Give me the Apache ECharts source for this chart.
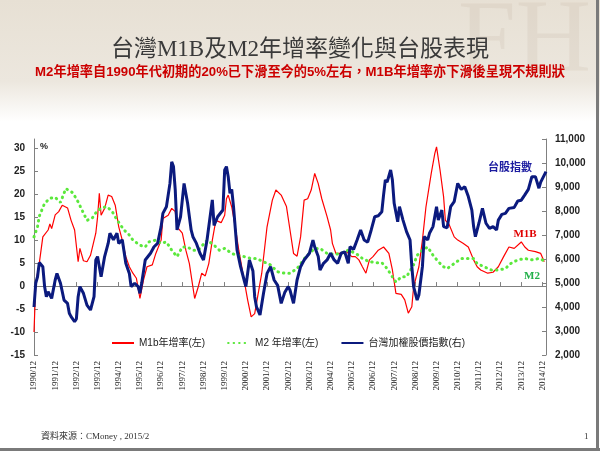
<!DOCTYPE html>
<html><head><meta charset="utf-8">
<script src="https://cdn.jsdelivr.net/npm/echarts@6/dist/echarts.min.js"></script>
<style>html,body{margin:0;padding:0;background:#fff}#c{width:600px;height:451px}</style>
</head><body><div id="c"></div>
<script>
// x values are months since 1990/12
const yearLabels = ['1990/12','1991/12','1992/12','1993/12','1994/12','1995/12','1996/12','1997/12','1998/12','1999/12','2000/12','2001/12','2002/12','2003/12','2004/12','2005/12','2006/12','2007/12','2008/12','2009/12','2010/12','2011/12','2012/12','2013/12','2014/12'];

const m1b = [[0,-10],[1,0.6],[3,5],[5,10.7],[8,12.2],[9,13.5],[10,12.5],[12,15.5],[14,16.2],[16,17.6],[19,17],[21,14.3],[23,12.2],[25,5.3],[26,8.2],[28,5.5],[30,5.3],[32,6.7],[35,11.5],[36,15],[37,20.2],[38,15.4],[40,16.9],[42,19.8],[44,19.5],[46,17.6],[48,12.9],[50,10],[52,6.4],[54,4.2],[56,2.8],[58,1.7],[60,-2.7],[62,1.3],[64,4.2],[67,4.6],[69,7.1],[72,10],[73,14.7],[76,15.4],[78,16.9],[80,16.2],[81,12.9],[84,11.5],[86,7.8],[88,4.9],[90,-0.2],[91,-2.7],[93,-0.2],[95,2.8],[97,2.2],[99,4.9],[101,10],[103,14.3],[106,13.8],[108,15.4],[109,19],[110,19.8],[112,17.2],[114,12.9],[116,7.8],[119,1.3],[121,-3],[123,-6.7],[125,-6],[127,-1.6],[129,2.8],[132,12.9],[135,18.7],[137,20.9],[140,19.8],[143,17.3],[145,12.2],[147,7.1],[149,6.5],[151,10.7],[153,18.7],[155,19],[157,20.9],[159,24.5],[161,22.3],[163,19],[166,15.1],[168,12.2],[169,9.3],[171,7.1],[174,7.1],[177,7.5],[180,6.4],[182,6.4],[184,5.7],[186,4.2],[188,2.8],[190,5.7],[192,6.4],[195,7.8],[198,8.5],[199,8.5],[201,7.1],[203,3.5],[205,-1.6],[208,-1.8],[210,-3],[212,-5.9],[214,-4.5],[215,-0.2],[218,4.2],[220,10],[222,17.2],[225,24.5],[227,28.8],[228,30.3],[230,25.2],[232,19.4],[233,14.3],[235,13.5],[238,10.7],[240,10],[243,9.3],[246,8.5],[249,5.7],[251,4.2],[253,3.5],[257,2.8],[260,3],[263,4.2],[266,6.4],[269,8.5],[272,8.2],[276,9.6],[278,8.5],[280,7.8],[284,7.5],[287,7.1],[289,5.3]];

const m2 = [[0,10.7],[2,12.9],[3,15.2],[6,18],[9,19.1],[12,19.3],[15,18.2],[18,21.2],[19,21.4],[22,20.3],[25,18.3],[27,16.7],[30,14.3],[33,14.8],[36,16.5],[38,16.9],[41,17.3],[44,16.4],[47,14.4],[51,12.2],[54,11.1],[56,10],[60,8.9],[63,8.5],[65,9.6],[69,10],[72,9.3],[75,9.6],[78,7.8],[81,6.4],[84,8.5],[87,8.5],[90,7.8],[93,7.8],[98,10],[102,8.9],[105,7.8],[108,8.2],[112,7.1],[115,6.7],[119,6.4],[123,6],[126,6],[130,5.3],[134,4.6],[138,3.1],[142,2.8],[145,2.8],[149,3.8],[154,6.4],[159,8.2],[162,8.2],[166,7.1],[170,6.9],[174,7.1],[178,7.8],[180,7.5],[183,6.9],[186,6],[190,5.3],[194,5.1],[197,5.1],[200,3.8],[203,2],[205,0.9],[208,2],[211,2],[215,4.6],[217,6.7],[220,7.8],[223,8.5],[226,6.7],[229,5.3],[232,4.2],[234,3.8],[238,4.9],[242,6],[246,6],[249,6],[251,4.9],[255,4.2],[259,3.5],[263,3.5],[267,3.8],[270,4.9],[274,5.7],[278,6],[282,5.7],[286,6],[289,5.5]];

const taiex = [[0,4000],[1,5000],[2,5260],[3,5850],[5,5680],[6,4850],[7,4430],[8,4640],[10,4360],[12,5125],[13,5400],[15,4990],[17,4290],[19,4150],[20,3740],[21,3600],[23,3390],[24,3500],[25,4430],[26,4850],[28,4570],[30,4080],[32,3875],[34,4430],[35,5960],[36,6100],[38,5260],[40,6100],[42,6650],[43,7070],[45,6800],[47,7070],[48,6650],[50,6800],[52,5820],[54,5400],[55,4850],[57,4990],[59,4850],[60,4570],[61,4990],[63,5960],[66,6240],[68,6510],[70,6650],[72,7350],[73,7900],[75,8180],[77,9150],[78,10050],[79,9850],[80,8880],[81,7210],[83,7760],[85,9150],[87,8320],[89,7210],[90,6930],[92,6650],[94,6240],[96,5960],[98,6790],[101,8460],[102,7400],[104,7760],[107,8040],[108,9710],[109,9850],[110,9430],[111,8740],[112,8900],[113,8180],[115,6380],[117,5680],[119,5125],[120,4850],[122,5960],[124,5500],[125,4430],[126,4010],[128,3670],[130,4570],[132,5400],[134,5680],[136,5125],[138,4900],[140,4150],[142,4600],[144,4850],[145,4700],[147,4150],[149,5125],[151,5680],[153,5960],[156,6240],[158,6790],[159,6500],[161,6100],[162,5540],[164,5820],[166,5960],[168,6240],[170,5960],[172,5820],[174,6240],[176,6300],[178,5820],[179,6510],[181,6400],[183,6790],[185,7210],[187,6790],[189,6700],[191,7210],[193,7760],[195,7800],[197,7970],[198,8670],[199,9290],[200,9200],[202,9710],[203,9290],[204,8320],[206,7550],[207,8180],[209,7620],[211,7140],[213,6790],[214,5680],[215,4850],[216,4570],[217,4290],[218,4500],[220,5680],[221,6930],[223,6800],[224,7070],[226,7350],[228,8180],[229,7620],[231,8040],[232,7350],[234,7300],[236,8180],[238,8390],[240,9150],[242,8900],[244,9010],[246,8600],[248,8040],[249,7350],[250,6930],[252,7490],[254,8110],[256,7490],[258,7280],[260,7350],[262,7210],[263,7620],[265,7860],[267,7900],[269,8110],[272,8150],[274,8420],[276,8450],[278,8670],[280,8900],[282,9430],[284,9430],[286,8950],[287,9200],[290,9640]];

const seriesNames = ['M1b年增率(左)', 'M2 年增率(左)', '台灣加權股價指數(右)'];

const chart = echarts.init(document.getElementById('c'), null, {renderer: 'canvas'});
const cjkSans = "'Liberation Sans','Noto Sans CJK TC'";
const axisLine = {show: true, lineStyle: {color: '#808080', width: 1}};
const axisTick = {show: true, inside: true, length: 4, lineStyle: {color: '#808080'}};
const numLabel = {fontSize: 10, fontWeight: 'bold', fontFamily: 'Liberation Sans', color: '#222', margin: 9};

chart.setOption({
  animation: false,
  backgroundColor: new echarts.graphic.LinearGradient(0, 0, 0, 1, [
    {offset: 0, color: '#e7e0d4'},
    {offset: 0.18, color: '#ece7de'},
    {offset: 0.27, color: '#ffffff'},
    {offset: 1, color: '#ffffff'}
  ]),
  grid: {left: 34, right: 54, top: 139, bottom: 96},
  legend: {
    left: 106, top: 333, itemWidth: 22, itemHeight: 10, itemGap: 22,
    data: seriesNames,
    itemStyle: {opacity: 0},
    textStyle: {fontSize: 10, fontFamily: cjkSans, color: '#222'}
  },
  xAxis: {
    type: 'value', min: 0, max: 290, interval: 12,
    axisLine: axisLine, axisTick: axisTick, splitLine: {show: false},
    axisLabel: {
      rotate: 90, margin: 6, fontSize: 9, fontFamily: 'Liberation Serif', color: '#222',
      showMaxLabel: false,
      formatter: v => (v % 12 === 0 && yearLabels[v / 12]) ? yearLabels[v / 12] : ''
    }
  },
  yAxis: [
    {type: 'value', min: -15, max: 32, interval: 5, position: 'left',
     axisLine: axisLine, axisTick: axisTick, splitLine: {show: false},
     axisLabel: Object.assign({showMaxLabel: false}, numLabel)},
    {type: 'value', min: 2000, max: 11000, interval: 1000, position: 'right',
     axisLine: axisLine, axisTick: axisTick, splitLine: {show: false},
     axisLabel: numLabel}
  ],
  series: [
    {name: seriesNames[0], type: 'line', yAxisIndex: 0, data: m1b, symbol: 'none',
     lineStyle: {color: '#ff0000', width: 1.2}, itemStyle: {color: '#ff0000'}, z: 2},
    {name: seriesNames[1], type: 'line', yAxisIndex: 0, data: m2, symbol: 'none',
     lineStyle: {color: '#5be83c', width: 3, type: [0.5, 5], cap: 'round'}, itemStyle: {color: '#5be83c'}, z: 3},
    {name: seriesNames[2], type: 'line', yAxisIndex: 1, data: taiex, symbol: 'none',
     lineStyle: {color: '#0b1a7e', width: 3}, itemStyle: {color: '#0b1a7e'}, z: 4}
  ],
  graphic: [
    {type: 'text', x: 458, y: -8, z: 0, silent: true,
     style: {text: 'FH', font: '104px Liberation Serif', fill: 'rgba(185,170,150,0.16)'}},
    {type: 'text', x: 300, y: 50, z: 100,
     style: {text: '台灣M1B及M2年增率變化與台股表現', font: "23px 'Liberation Serif','Noto Sans CJK TC'", fill: '#3a3a3a', align: 'center', verticalAlign: 'middle', textAlign: 'center', textVerticalAlign: 'middle'}},
    {type: 'text', x: 300, y: 72, z: 100,
     style: {text: 'M2年增率自1990年代初期的20%已下滑至今的5%左右，M1B年增率亦下滑後呈現不規則狀', font: "bold 13.2px " + cjkSans, fill: '#cc0000', align: 'center', verticalAlign: 'middle', textAlign: 'center', textVerticalAlign: 'middle'}},
    {type: 'text', x: 40, y: 147, z: 100,
     style: {text: '%', font: 'bold 9px Liberation Sans', fill: '#222', verticalAlign: 'middle', textVerticalAlign: 'middle'}},
    {type: 'text', x: 510, y: 167, z: 100,
     style: {text: '台股指數', font: "bold 11px 'Noto Sans CJK TC'", fill: '#1c1ca0', align: 'center', verticalAlign: 'middle', textAlign: 'center', textVerticalAlign: 'middle'}},
    {type: 'text', x: 525, y: 234, z: 100,
     style: {text: 'M1B', font: 'bold 11px Liberation Serif', fill: '#e00000', align: 'center', verticalAlign: 'middle', textAlign: 'center', textVerticalAlign: 'middle'}},
    {type: 'text', x: 532, y: 276, z: 100,
     style: {text: 'M2', font: 'bold 11px Liberation Serif', fill: '#22b04a', align: 'center', verticalAlign: 'middle', textAlign: 'center', textVerticalAlign: 'middle'}},
    {type: 'text', x: 41, y: 437, z: 100,
     style: {text: '資料來源：CMoney , 2015/2', font: "9px 'Liberation Serif','Noto Sans CJK TC'", fill: '#333', verticalAlign: 'middle', textVerticalAlign: 'middle'}},
    {type: 'text', x: 584, y: 437, z: 100,
     style: {text: '1', font: '9px Liberation Serif', fill: '#333', verticalAlign: 'middle', textVerticalAlign: 'middle'}},
    {type: 'line', z: 100, shape: {x1: 597.5, y1: 0, x2: 597.5, y2: 451}, style: {stroke: '#7a7a7a', lineWidth: 3}},
    {type: 'line', z: 100, shape: {x1: 0, y1: 449.5, x2: 600, y2: 449.5}, style: {stroke: '#7a7a7a', lineWidth: 3}}
  ]
});
</script>
</body></html>
